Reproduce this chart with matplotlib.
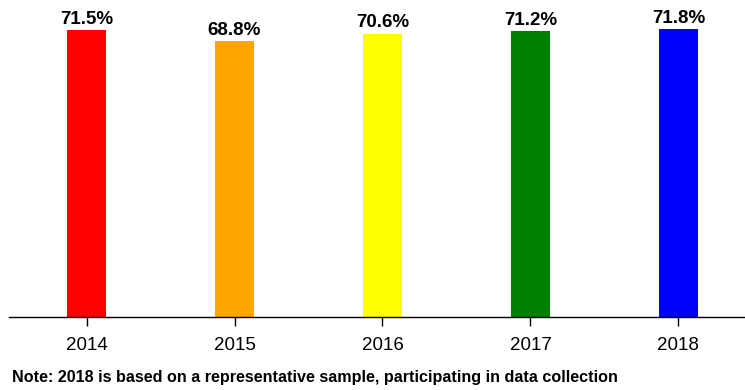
import numpy as np
import matplotlib.pyplot as plt

plt.rcParams['font.family'] = ['Liberation Sans', 'DejaVu Sans']

years = ['2014', '2015', '2016', '2017', '2018']
values = [71.5, 68.8, 70.6, 71.2, 71.8]
colors = ['#ff0000', '#ffa500', '#ffff00', '#008000', '#0000ff']

fig = plt.figure(figsize=(7.45, 3.9), dpi=100)
ax = fig.add_axes([0.0121, 0.1872, 0.9879, 0.8128])

x = np.arange(len(years))
ax.bar(x, values, width=0.264, color=colors)

# value labels above bars
for xi, v in zip(x, values):
    ax.annotate(f'{v}%', (xi, v), xytext=(0, 4.5), textcoords='offset points',
                ha='center', va='baseline', fontsize=13.5, fontweight='bold')

ax.set_xlim(-0.524, 4.45)
ax.set_ylim(0, 79)
ax.set_xticks(x)
ax.set_xticklabels(years, fontsize=13.5)
ax.tick_params(axis='x', length=6.5, width=1, direction='out', pad=8)
ax.set_yticks([])
for s in ['top', 'right', 'left']:
    ax.spines[s].set_visible(False)
ax.spines['bottom'].set_linewidth(1)

fig.text(0.016, 0.0205, 'Note: 2018 is based on a representative sample, participating in data collection',
         fontsize=11.6, fontweight='bold', ha='left', va='baseline')

fig.savefig('out.png', dpi=100)
